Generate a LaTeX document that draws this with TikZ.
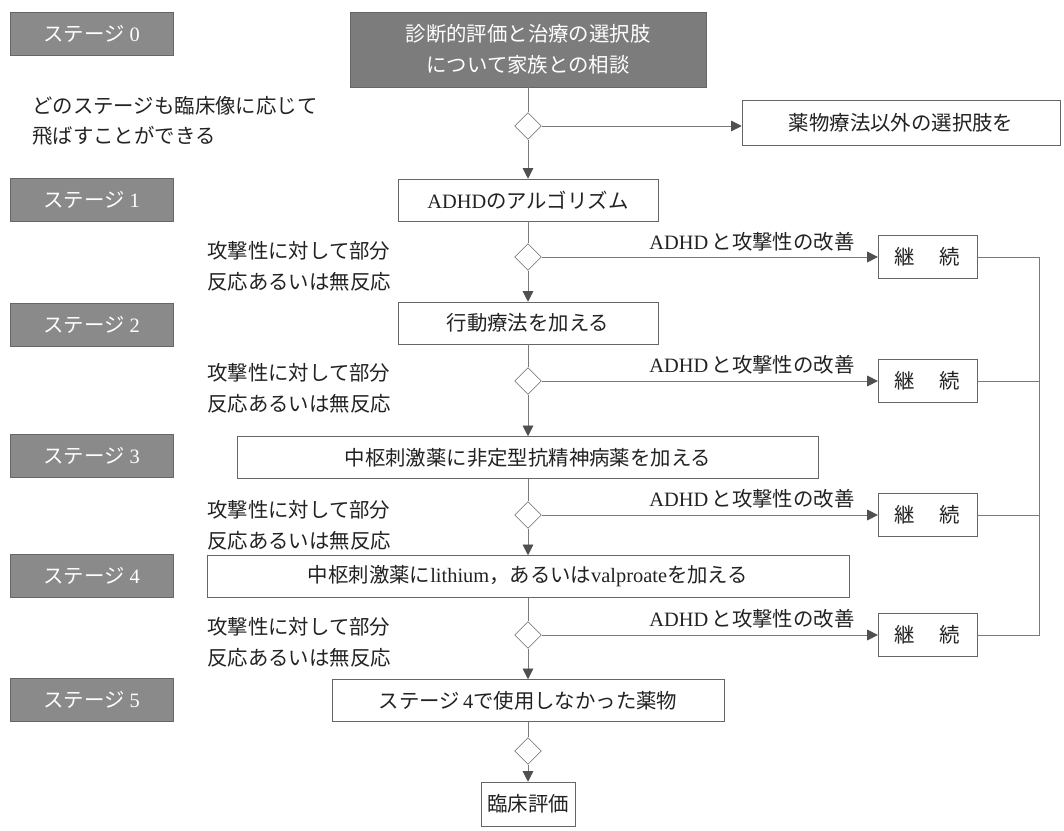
\documentclass[tikz,border=0pt]{standalone}
\usepackage{fontspec}
\setmainfont{Liberation Serif}
\newfontfamily\jp{Noto Sans CJK JP}
\usetikzlibrary{arrows.meta,shapes.geometric}
\definecolor{stagegray}{HTML}{8A8A8A}
\definecolor{topgray}{HTML}{7C7C7C}
\definecolor{boxline}{HTML}{666666}
\definecolor{lineg}{HTML}{7A7A7A}
\definecolor{arrowg}{HTML}{505050}
\definecolor{ink}{HTML}{222222}
\newcommand\dfont{\fontsize{15.3pt}{23pt}\selectfont}
\begin{document}
\begin{tikzpicture}[x=0.75pt,y=-0.75pt,
  stagelbl/.style={draw=boxline, fill=stagegray, text=white, minimum width=122.25pt, minimum height=32pt, inner sep=0pt, font=\dfont},
  topbox/.style={draw=boxline, fill=topgray, text=white, minimum width=267pt, minimum height=56pt, inner sep=0pt, align=center, font=\dfont},
  flowbox/.style={draw=boxline, fill=white, text=ink, minimum height=31.5pt, inner sep=0pt, font=\dfont},
  contbox/.style={flowbox, minimum width=74pt, minimum height=32pt},
  dia/.style={diamond, aspect=1, draw=boxline, fill=white, minimum width=20pt, minimum height=20pt, inner sep=0pt},
  conn/.style={draw=lineg, line width=0.6pt},
  arr/.style={conn, -{Triangle[length=8pt,width=8pt,color=arrowg]}},
  note/.style={text=ink, font=\dfont, align=left, inner sep=0pt},
  lbl/.style={text=ink, font=\dfont, inner sep=0pt}
]
\useasboundingbox (0,0) rectangle (1064,831);

% stage labels
\node[stagelbl] (s0) at (91.5,34) {{\jp ステージ}\ 0};
\node[stagelbl] (s1) at (91.5,200) {{\jp ステージ}\ 1};
\node[stagelbl] (s2) at (91.5,324.5) {{\jp ステージ}\ 2};
\node[stagelbl] (s3) at (91.5,455.5) {{\jp ステージ}\ 3};
\node[stagelbl] (s4) at (91.5,576) {{\jp ステージ}\ 4};
\node[stagelbl] (s5) at (91.5,700) {{\jp ステージ}\ 5};

% note
\node[note, anchor=west] (skip) at (32,121) {{\jp どのステージも臨床像に応じて}\\{\jp 飛ばすことができる}};

% main flow
\node[topbox] (top) at (528,49.5) {{\jp 診断的評価と治療の選択肢}\\{\jp について家族との相談}};
\node[dia] (d0) at (528,126) {};
\node[flowbox, minimum width=238.5pt, minimum height=34pt] (other) at (901,123) {{\jp 薬物療法以外の選択肢を}};

\node[flowbox, minimum width=195pt] (b1) at (528,200) {ADHD{\jp のアルゴリズム}};
\node[dia] (d1) at (528,257) {};
\node[flowbox, minimum width=195pt] (b2) at (528,323) {{\jp 行動療法を加える}};
\node[dia] (d2) at (528,381) {};
\node[flowbox, minimum width=435.75pt] (b3) at (528,457.5) {{\jp 中枢刺激薬に非定型抗精神病薬を加える}};
\node[dia] (d3) at (528,515) {};
\node[flowbox, minimum width=481.5pt] (b4) at (528,576.5) {{\jp 中枢刺激薬に}lithium{\jp ，あるいは}valproate{\jp を加える}};
\node[dia] (d4) at (528,635) {};
\node[flowbox, minimum width=294pt] (b5) at (528,700.5) {{\jp ステージ}\,4{\jp で使用しなかった薬物}};
\node[dia] (d5) at (528,751) {};
\node[flowbox, minimum width=70.5pt, minimum height=33pt] (b6) at (528,804) {{\jp 臨床評価}};

% continue boxes
\node[contbox] (c1) at (927.5,257) {{\jp 継}\hspace{1.2em}{\jp 続}};
\node[contbox] (c2) at (927.5,381) {{\jp 継}\hspace{1.2em}{\jp 続}};
\node[contbox] (c3) at (927.5,515) {{\jp 継}\hspace{1.2em}{\jp 続}};
\node[contbox] (c4) at (927.5,635) {{\jp 継}\hspace{1.2em}{\jp 続}};

% side notes
\node[note, anchor=west] (n1) at (207,266) {{\jp 攻撃性に対して部分}\\{\jp 反応あるいは無反応}};
\node[note, anchor=west] (n2) at (207,388) {{\jp 攻撃性に対して部分}\\{\jp 反応あるいは無反応}};
\node[note, anchor=west] (n3) at (207,525) {{\jp 攻撃性に対して部分}\\{\jp 反応あるいは無反応}};
\node[note, anchor=west] (n4) at (207,642.5) {{\jp 攻撃性に対して部分}\\{\jp 反応あるいは無反応}};

\node[lbl] (l1) at (752,242) {ADHD\,{\jp と攻撃性の改善}};
\node[lbl] (l2) at (752,365) {ADHD\,{\jp と攻撃性の改善}};
\node[lbl] (l3) at (752,499) {ADHD\,{\jp と攻撃性の改善}};
\node[lbl] (l4) at (752,619) {ADHD\,{\jp と攻撃性の改善}};

% connectors
\draw[conn] (top) -- (d0);
\draw[arr] (d0) -- (b1);
\draw[arr] (d0) -- (d0 -| other.west);
\draw[conn] (b1) -- (d1);
\draw[arr] (d1) -- (b2);
\draw[conn] (b2) -- (d2);
\draw[arr] (d2) -- (b3);
\draw[conn] (b3) -- (d3);
\draw[arr] (d3) -- (b4);
\draw[conn] (b4) -- (d4);
\draw[arr] (d4) -- (b5);
\draw[conn] (b5) -- (d5);
\draw[arr] (d5) -- (b6);

\draw[arr] (d1) -- (c1);
\draw[arr] (d2) -- (c2);
\draw[arr] (d3) -- (c3);
\draw[arr] (d4) -- (c4);

\coordinate (rt) at (1039,257);
\coordinate (rb) at (1039,635);
\draw[conn] (c1.east) -- (rt) -- (rb) -- (c4.east);
\draw[conn] (c2.east) -- (c2.east -| rt);
\draw[conn] (c3.east) -- (c3.east -| rt);
\end{tikzpicture}
\end{document}
